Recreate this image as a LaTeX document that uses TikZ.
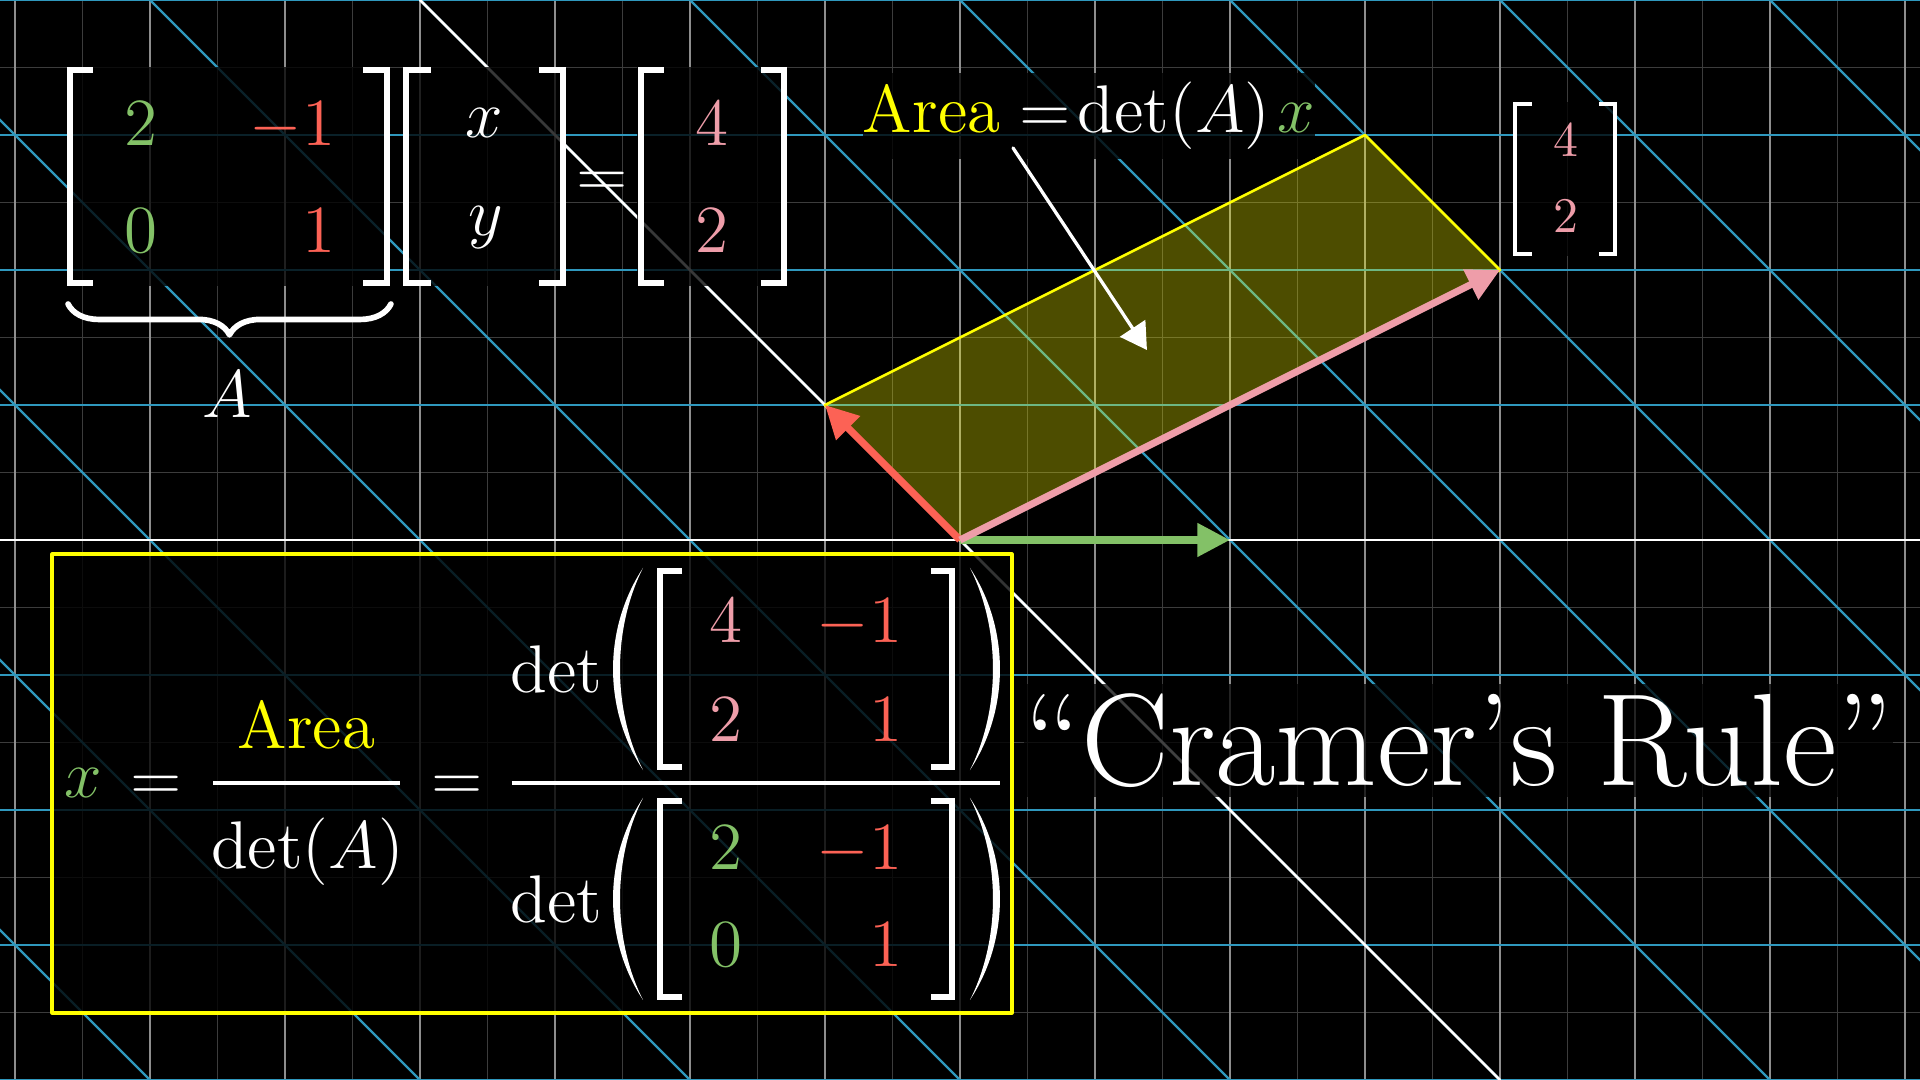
\RequirePackage{fix-cm}
\documentclass[tikz,border=0pt]{standalone}
\usepackage{amsmath}
\usetikzlibrary{arrows.meta, decorations.pathreplacing}
\definecolor{cbgreen}{HTML}{83C167}
\definecolor{cbred}{HTML}{FC6255}
\definecolor{cbpink}{HTML}{EE9DA9}
\definecolor{cbyellow}{HTML}{FFFF00}
\definecolor{cbblue}{HTML}{2F98BD}
\definecolor{gridmain}{HTML}{8E8E8E}
\definecolor{gridfaint}{HTML}{3C3C3C}
% square bracket: [line width] stem x, serif end x, top y, bottom y
\newcommand{\sqbrk}[5][1.3pt]{%
  \draw[white, line width=#1, line cap=butt, line join=miter] (#3,#4) -- (#2,#4) -- (#2,#5) -- (#3,#5);}
% tall parentheses: tip x, top y, bottom y
\newcommand{\parL}[3]{%
  \fill[white] (#1,#2) .. controls ({#1-0.296},{#2-0.45}) and ({#1-0.296},{#3+0.45}) .. (#1,#3)
    .. controls ({#1-0.227},{#3+0.45}) and ({#1-0.227},{#2-0.45}) .. (#1,#2) -- cycle;}
\newcommand{\parR}[3]{%
  \fill[white] (#1,#2) .. controls ({#1+0.296},{#2-0.45}) and ({#1+0.296},{#3+0.45}) .. (#1,#3)
    .. controls ({#1+0.227},{#3+0.45}) and ({#1+0.227},{#2-0.45}) .. (#1,#2) -- cycle;}

\begin{document}
\begin{tikzpicture}[
  x=1cm, y=1cm,
  line cap=round, line join=round,
  faint/.style={draw=gridfaint, line width=0.35pt},
  gridln/.style={draw=gridmain, line width=0.4pt},
  tgrid/.style={draw=cbblue, line width=0.5pt},
  axisln/.style={draw=white, line width=0.55pt},
  vec/.style={line width=1.5pt, line cap=butt, -{Triangle[length=6.9pt,width=6.8pt]}},
  entry/.style={inner sep=0pt, text=white, font=\fontsize{14.2}{17}\selectfont},
  minientry/.style={inner sep=0pt, text=cbpink, font=\fontsize{10.5}{12}\selectfont},
  backing/.style={fill=black, fill opacity=0.78},
  fracbar/.style={draw=white, line width=0.85pt, line cap=butt},
  ubrace/.style={draw=white, line width=1.2pt, decorate, decoration={brace, amplitude=6.5pt}},
]
\fill[black] (-7.1111,-4) rectangle (7.1111,4);
\clip (-7.1111,-4) rectangle (7.1111,4);

% faded original plane
\foreach \x in {-6.5,-5.5,...,6.5} \draw[faint] (\x,-4) -- (\x,4);
\foreach \y in {-3.5,-2.5,...,3.5} \draw[faint] (-7.2,\y) -- (7.2,\y);
\foreach \x in {-7,...,7} \draw[gridln] (\x,-4) -- (\x,4);

% transformed plane
\foreach \y in {-4,...,4} \draw[tgrid] (-7.2,\y) -- (7.2,\y);
\foreach \m in {-5,...,5} \draw[tgrid] ({2*\m+4},-4) -- ({2*\m-4},4);
\draw[axisln] (-7.2,0) -- (7.2,0);
\draw[axisln] (4,-4) -- (-4,4);

% backings for the equation
\fill[backing] (-6.615,1.881) rectangle (-4.222,3.504);
\fill[backing] (-4.126,1.881) rectangle (-2.919,3.504);
\fill[backing] (-2.393,1.881) rectangle (-1.281,3.504);
\fill[backing] (4.096,2.104) rectangle (4.867,3.244);
\draw[cbyellow, line width=0.65pt, fill=black, fill opacity=0.8] (-6.726,-3.504) rectangle (0.385,-0.104);

% area spanned by the transformed vectors
\filldraw[cbyellow, fill opacity=0.3, line width=0.55pt] (0,0) -- (4,2) -- (3,3) -- (-1,1) -- cycle;

\coordinate (O) at (0,0);
\coordinate (ihat) at (2,0);
\coordinate (jhat) at (-1,1);
\coordinate (out) at (4,2);
\draw[vec, cbgreen] (O) -- (ihat);
\draw[vec, cbred] (O) -- (jhat);
\draw[vec, cbpink] (O) -- (out);

% A [x y] = [4 2]
\sqbrk{-6.593}{-6.422}{3.481}{1.904}
\sqbrk{-4.244}{-4.422}{3.481}{1.904}
\node[entry, text=cbgreen, anchor=base] (a11) at (-6.067,2.919) {$2$};
\node[entry, text=cbred, anchor=base east] (a12) at (-4.622,2.919) {$-1$};
\node[entry, text=cbgreen, anchor=base] (a21) at (-6.067,2.133) {$0$};
\node[entry, text=cbred, anchor=base east] (a22) at (-4.622,2.133) {$1$};
\sqbrk{-4.104}{-3.919}{3.481}{1.904}
\sqbrk{-2.941}{-3.119}{3.481}{1.904}
\node[entry, anchor=base] (vx) at (-3.526,2.985) {$x$};
\node[entry, anchor=base] (vy) at (-3.511,2.252) {$y$};
\node[entry, anchor=base] (eqtop) at (-2.652,2.541) {$=$};
\sqbrk{-2.363}{-2.193}{3.481}{1.904}
\sqbrk{-1.304}{-1.474}{3.481}{1.904}
\node[entry, text=cbpink, anchor=base] (b1) at (-1.837,2.919) {$4$};
\node[entry, text=cbpink, anchor=base] (b2) at (-1.837,2.126) {$2$};
\draw[ubrace] (-4.215,1.748) -- (-6.607,1.748);
\node[entry, anchor=base] (Aname) at (-5.430,0.904) {$A$};

% label of the area
\node[entry, anchor=base west, fill=black, fill opacity=0.8, text opacity=1, inner ysep=2pt] (arealabel)
  at (-0.726,3.015) {$\textcolor{cbyellow}{\text{Area}} = \mkern-3mu\det(A)\mkern2mu\textcolor{cbgreen}{x}$};
\coordinate (ptrfrom) at (0.393,2.904);
\coordinate (ptrto) at (1.385,1.407);
\draw[white, line width=0.7pt, -{Triangle[length=5.5pt,width=6.3pt]}] (ptrfrom) -- (ptrto);

% output vector label
\sqbrk[0.9pt]{4.111}{4.237}{3.230}{2.119}
\sqbrk[0.9pt]{4.852}{4.733}{3.230}{2.119}
\node[minientry, anchor=base] (s1) at (4.489,2.837) {$4$};
\node[minientry, anchor=base] (s2) at (4.489,2.274) {$2$};

% x = Area / det(A) = det(..) / det(..)
\node[entry, text=cbgreen, anchor=base] (xlhs) at (-6.493,-1.911) {$x$};
\node[entry, anchor=base] (eqA) at (-5.952,-1.926) {$=$};
\node[entry, text=cbyellow, anchor=base] (areanum) at (-4.841,-1.548) {Area};
\draw[fracbar] (-5.533,-1.8) -- (-4.148,-1.8);
\node[entry, anchor=base] (detA) at (-4.833,-2.430) {$\det(A)$};
\node[entry, anchor=base] (eqB) at (-3.726,-1.926) {$=$};
\draw[fracbar] (-3.319,-1.8) -- (0.296,-1.8);

\node[entry, anchor=base west] (detnum) at (-3.333,-1.126) {$\det$};
\parL{-2.348}{-0.207}{-1.704}
\parR{0.074}{-0.207}{-1.704}
\sqbrk{-2.222}{-2.059}{-0.230}{-1.681}
\sqbrk{-0.059}{-0.215}{-0.230}{-1.681}
\node[entry, text=cbpink, anchor=base] (n11) at (-1.733,-0.756) {$4$};
\node[entry, text=cbred, anchor=base east] (n12) at (-0.422,-0.756) {$-1$};
\node[entry, text=cbpink, anchor=base] (n21) at (-1.733,-1.496) {$2$};
\node[entry, text=cbred, anchor=base east] (n22) at (-0.422,-1.496) {$1$};

\node[entry, anchor=base west] (detden) at (-3.333,-2.830) {$\det$};
\parL{-2.348}{-1.911}{-3.407}
\parR{0.074}{-1.911}{-3.407}
\sqbrk{-2.222}{-2.059}{-1.933}{-3.385}
\sqbrk{-0.059}{-0.215}{-1.933}{-3.385}
\node[entry, text=cbgreen, anchor=base] (d11) at (-1.733,-2.444) {$2$};
\node[entry, text=cbred, anchor=base east] (d12) at (-0.422,-2.444) {$-1$};
\node[entry, text=cbgreen, anchor=base] (d21) at (-1.733,-3.156) {$0$};
\node[entry, text=cbred, anchor=base east] (d22) at (-0.422,-3.156) {$1$};

% name of the rule
\node[anchor=base west, text=white, fill=black, fill opacity=0.75, text opacity=1, inner xsep=0pt, inner ysep=2pt,
  font=\fontsize{27.7}{33}\selectfont] (rulename) at (0.470,-1.815) {“Cramer’s Rule”};
\end{tikzpicture}
\end{document}
